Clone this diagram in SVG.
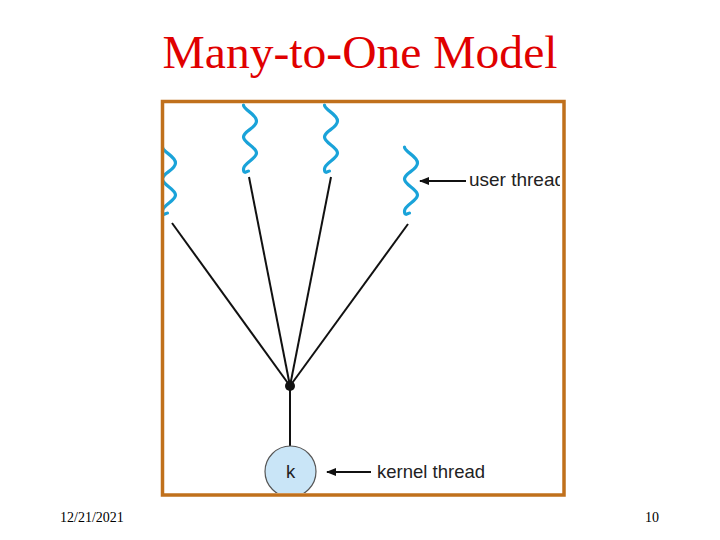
<svg xmlns="http://www.w3.org/2000/svg" xmlns:xlink="http://www.w3.org/1999/xlink" width="720" height="540" viewBox="0 0 720 540">
<style>
.title{font-family:"Liberation Serif","Times New Roman",serif;font-size:46px;fill:#e00000}
.foot{font-family:"Liberation Serif","Times New Roman",serif;font-size:14px;fill:#000}
.lbl{font-family:"Liberation Sans",Arial,sans-serif;font-size:18.5px;fill:#222}
.sq{fill:none;stroke:#1aa3d9;stroke-width:3.2;stroke-linecap:round}
.edge{stroke:#111;stroke-width:2;fill:none}
.arr{stroke:#111;stroke-width:2;fill:none}
</style>
<defs>
<path id="squig" d="M-6,0 C-6,5 7,9 7,16 S-6,26 -6,32 S7,42 7,48 S-6,58 -6,64 S-2,66 -1,66"/>
<marker id="ah" viewBox="0 0 10 10" refX="9" refY="5" markerWidth="10" markerHeight="10" markerUnits="userSpaceOnUse" orient="auto">
<path d="M0,1 L10,5 L0,9 Z" fill="#111"/>
</marker>
<clipPath id="box"><rect x="164" y="103" width="396" height="390"/></clipPath>
</defs>
<rect width="720" height="540" fill="#fff"/>
<text class="title" x="360" y="68" text-anchor="middle" textLength="395" lengthAdjust="spacingAndGlyphs">Many-to-One Model</text>
<g id="user-threads">
<use xlink:href="#squig" class="sq" transform="translate(168.5,147)"/>
<use xlink:href="#squig" class="sq" transform="translate(249.5,105)"/>
<use xlink:href="#squig" class="sq" transform="translate(330.5,105)"/>
<use xlink:href="#squig" class="sq" transform="translate(410.5,147)"/>
</g>
<g id="connectors">
<line class="edge" x1="172" y1="223" x2="290" y2="386"/>
<line class="edge" x1="249" y1="177" x2="290" y2="386"/>
<line class="edge" x1="331" y1="177" x2="290" y2="386"/>
<line class="edge" x1="408" y1="224" x2="290" y2="386"/>
<line class="edge" x1="290" y1="386" x2="290" y2="446"/>
<line class="arr" x1="466" y1="181" x2="420" y2="181" marker-end="url(#ah)"/>
<line class="arr" x1="371" y1="472" x2="327" y2="472" marker-end="url(#ah)"/>
</g>
<g id="junction"><circle cx="290" cy="386" r="5" fill="#111"/></g>
<g id="kernel-thread" clip-path="url(#box)">
<circle cx="290.5" cy="471.5" r="25.5" fill="#c9e5f7" stroke="#555" stroke-width="1.2"/>
<text class="lbl" x="290.5" y="478" text-anchor="middle" font-size="16">k</text>
</g>
<g id="labels" clip-path="url(#box)">
<text class="lbl" x="469" y="186" textLength="96" lengthAdjust="spacingAndGlyphs">user thread</text>
<text class="lbl" x="377" y="478" textLength="108" lengthAdjust="spacingAndGlyphs">kernel thread</text>
</g>
<rect id="frame" x="162.5" y="101.5" width="401.5" height="393.5" fill="none" stroke="#c0701c" stroke-width="3.5"/>
<text class="foot" x="60" y="522">12/21/2021</text>
<text class="foot" x="645" y="522">10</text>
</svg>
